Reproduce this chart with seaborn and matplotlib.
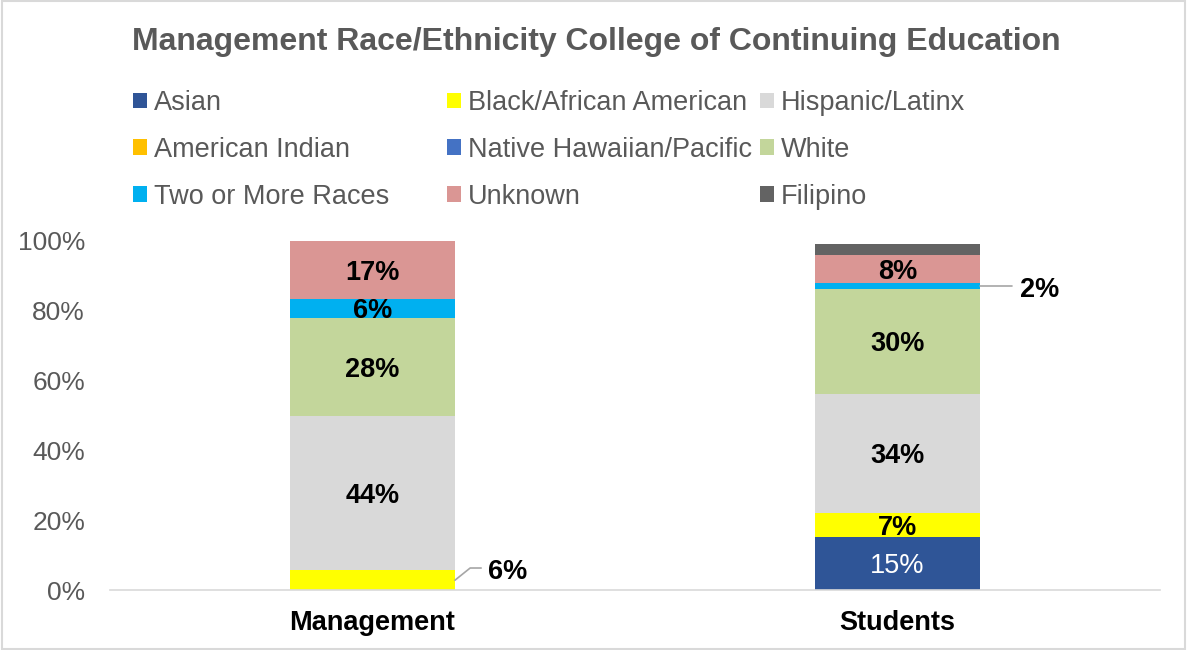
import matplotlib
matplotlib.use("Agg")
import matplotlib.pyplot as plt
import seaborn as sns
from matplotlib.patches import Patch, Rectangle
from matplotlib.ticker import FuncFormatter

# Chart data (percent)
categories = ["Management", "Students"]
groups = ["Asian", "Black/African American", "Hispanic/Latinx", "American Indian",
          "Native Hawaiian/Pacific", "White", "Two or More Races", "Unknown", "Filipino"]
management = [0, 5.6, 44.4, 0, 0, 27.8, 5.6, 16.7, 0]
students = [15.2, 6.9, 34.1, 0, 0, 30.0, 1.8, 8.0, 3.2]
colors = ["#2F5597", "#FFFF00", "#D9D9D9", "#FFC000", "#4472C4",
          "#C3D69B", "#00B0F0", "#DA9694", "#636363"]
mgmt_labels = ["", "6%", "44%", "", "", "28%", "6%", "17%", ""]
stud_labels = ["15%", "7%", "34%", "", "", "30%", "2%", "8%", ""]

sns.set_style("white")
plt.rcParams['font.family'] = ['Liberation Sans', 'DejaVu Sans']

fig = plt.figure(figsize=(11.87, 6.5), dpi=100)
ax = fig.add_axes([110 / 1187, 60 / 650, 1050 / 1187, 349 / 650])

FS = 19.5
bar_w = 0.314
bottoms = [0.0, 0.0]
for i, g in enumerate(groups):
    vals = [management[i], students[i]]
    sns.barplot(x=categories, y=vals, bottom=bottoms, color=colors[i],
                width=bar_w, saturation=1, ax=ax, linewidth=0)
    labels = [mgmt_labels[i], stud_labels[i]]
    for j in range(2):
        lab = labels[j]
        mid = bottoms[j] + vals[j] / 2 - 0.8
        if lab and not ((j == 0 and g == "Black/African American") or
                        (j == 1 and g == "Two or More Races")):
            if g == "Asian":
                ax.text(j, mid, lab, ha="center", va="center", color="white",
                        fontsize=FS)
            else:
                ax.text(j, mid, lab, ha="center", va="center", color="black",
                        fontsize=FS, fontweight="bold")
    bottoms = [bottoms[0] + vals[0], bottoms[1] + vals[1]]

# callouts for thin segments
m_mid = management[1] / 2
ax.plot([bar_w / 2, 0.186, 0.207], [m_mid, 6.3, 6.3], color="#A6A6A6", lw=1.2)
ax.text(0.22, 5.3, mgmt_labels[1], ha="left", va="center", fontsize=FS,
        fontweight="bold", color="black")
s_mid = sum(students[:6]) + students[6] / 2
ax.plot([1 + bar_w / 2, 1.218], [s_mid, s_mid], color="#A6A6A6", lw=1.2)
ax.text(1.233, s_mid - 1.2, stud_labels[6], ha="left", va="center", fontsize=FS,
        fontweight="bold", color="black")

ax.set_xlim(-0.5, 1.5)
ax.set_ylim(0, 100)
ax.set_yticks([0, 20, 40, 60, 80, 100])
ax.yaxis.set_major_formatter(FuncFormatter(lambda v, p: f"{v:.0f}%"))
ax.tick_params(axis="y", length=0, pad=18, labelsize=19, labelcolor="#595959")
ax.tick_params(axis="x", length=0, pad=14.5, labelsize=FS, labelcolor="black")
for t in ax.get_xticklabels():
    t.set_fontweight("bold")
for s in ["top", "right", "left"]:
    ax.spines[s].set_visible(False)
ax.spines["bottom"].set_color("#D9D9D9")
ax.spines["bottom"].set_linewidth(1.2)
ax.set_xlabel("")
ax.set_ylabel("")

fig.text(596 / 1187, 1 - 42 / 650, "Management Race/Ethnicity College of Continuing Education",
         ha="center", va="center", fontsize=23, fontweight="bold", color="#595959")

# legend: three columns laid out like the original
col_x = [133, 447, 760]
order = [[0, 3, 6], [1, 4, 7], [2, 5, 8]]
for cx, idxs in zip(col_x, order):
    handles = [Patch(facecolor=colors[k], edgecolor="none", label=groups[k]) for k in idxs]
    leg = fig.legend(handles=handles, loc="upper left",
                     bbox_to_anchor=(cx / 1187, 1 - 90 / 650), frameon=False,
                     fontsize=FS, handlelength=0.52, handleheight=0.52,
                     handletextpad=0.25, labelspacing=0.77, borderaxespad=0,
                     borderpad=0)
    for t in leg.get_texts():
        t.set_color("#595959")

fig.add_artist(Rectangle((0.002, 0.002), 0.996, 0.996, transform=fig.transFigure,
                         fill=False, edgecolor="#D9D9D9", lw=1.5))

fig.savefig("out.png", dpi=100)
